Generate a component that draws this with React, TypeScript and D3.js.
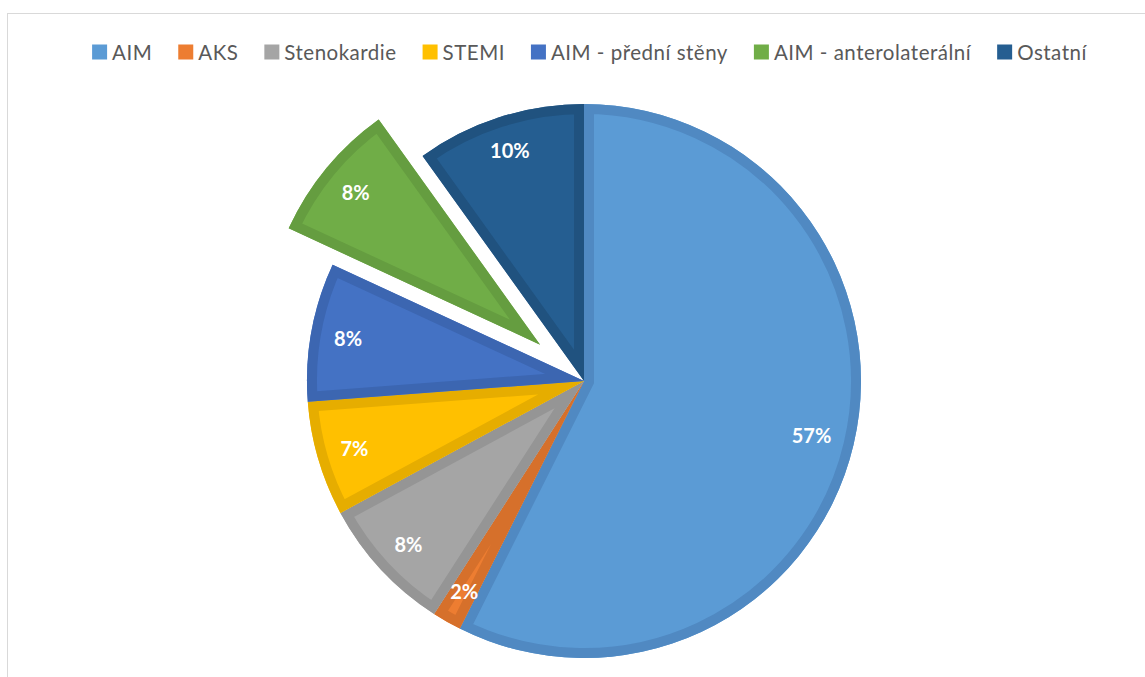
import React, { useEffect, useRef } from "react";
import * as d3 from "d3";

const categories = ["AIM", "AKS", "Stenokardie", "STEMI", "AIM - přední stěny", "AIM - anterolaterální", "Ostatní"];
const values = [57.4, 1.7, 8.0, 6.7, 8.1, 8.2, 9.9];
const fillColors = ["#5B9BD5", "#ED7D31", "#A5A5A5", "#FFC000", "#4472C4", "#70AD47", "#255E91"];
const borderColors = ["#5089C2", "#D6702B", "#959595", "#E6AD00", "#3C66B1", "#659D40", "#20527F"];
const explodedIndex = 5;

const W = 1145;
const H = 677;

export default function App() {
  const ref = useRef<SVGSVGElement>(null);

  useEffect(() => {
    const svg = d3.select(ref.current);
    svg.selectAll("*").remove();

    // chart frame
    svg.append("rect")
      .attr("x", 7.5).attr("y", 13.5)
      .attr("width", 1300).attr("height", 800)
      .attr("fill", "#fff").attr("stroke", "#D9D9D9").attr("stroke-width", 1);

    const cx = 584, cy = 381, R = 277;
    const explode = 57;
    const border = 10;
    const labelInner = 257; // inside-end: label box touches this radius

    const total = d3.sum(values);
    const pie = d3.pie<number>().sort(null).startAngle(0).endAngle(2 * Math.PI).value((d) => d);
    const arcs = pie(values);
    const arc = d3.arc<d3.PieArcDatum<number>>().innerRadius(0).outerRadius(R);
    const pct = d3.format(".0%");

    const defs = svg.append("defs");

    arcs.forEach((a, i) => {
      const mid = (a.startAngle + a.endAngle) / 2;
      const off = i === explodedIndex ? explode : 0;
      const dx = Math.sin(mid) * off;
      const dy = -Math.cos(mid) * off;
      const d = arc(a) as string;
      const clipId = `clip-${i}`;
      defs.append("clipPath").attr("id", clipId).append("path").attr("d", d);
      const sg = svg.append("g").attr("transform", `translate(${cx + dx},${cy + dy})`);
      sg.append("path").attr("d", d).attr("fill", fillColors[i]);
      sg.append("path")
        .attr("d", d)
        .attr("fill", "none")
        .attr("stroke", borderColors[i])
        .attr("stroke-width", border * 2)
        .attr("stroke-linejoin", "miter")
        .attr("clip-path", `url(#${clipId})`);
    });

    // labels (inside end)
    arcs.forEach((a, i) => {
      const mid = (a.startAngle + a.endAngle) / 2;
      const off = i === explodedIndex ? explode : 0;
      const ux = Math.sin(mid);
      const uy = -Math.cos(mid);
      const t = svg.append("text")
        .attr("text-anchor", "middle")
        .attr("dominant-baseline", "central")
        .attr("font-family", "Lato, 'Open Sans', sans-serif")
        .attr("font-weight", "bold")
        .attr("font-size", 20)
        .attr("fill", "#FFFFFF")
        .text(pct(a.data / total));
      const w = (t.node() as SVGTextElement).getComputedTextLength() + 4;
      const h = 17;
      const r = labelInner - (Math.abs(ux) * w) / 2 - (Math.abs(uy) * h) / 2;
      t.attr("x", cx + ux * (r + off)).attr("y", cy + uy * (r + off));
    });

    // legend
    const lg = svg.append("g");
    const fontSize = 20.5;
    const sq = 15;
    const sqGap = 5;
    const itemGap = 26;
    let x = 0;
    categories.forEach((c, i) => {
      const ig = lg.append("g");
      ig.append("rect").attr("x", 0).attr("y", -sq / 2).attr("width", sq).attr("height", sq).attr("fill", fillColors[i]);
      const t = ig.append("text")
        .attr("x", sq + sqGap)
        .attr("y", 0)
        .attr("dominant-baseline", "central")
        .attr("font-family", "Lato, 'Open Sans', sans-serif")
        .attr("font-size", fontSize)
        .attr("letter-spacing", 0.5)
        .attr("fill", "#595959")
        .text(c);
      const tw = (t.node() as SVGTextElement).getComputedTextLength();
      const w = sq + sqGap + tw;
      ig.attr("transform", `translate(${x},0)`);
      x += w + itemGap;
    });
    const totalW = x - itemGap;
    const legendCenter = 589.5;
    lg.attr("transform", `translate(${legendCenter - totalW / 2},52)`);
  }, []);

  return (
    <svg
      ref={ref}
      width={W}
      height={H}
      style={{ position: "absolute", left: 0, top: 0, display: "block", background: "#fff" }}
    />
  );
}
